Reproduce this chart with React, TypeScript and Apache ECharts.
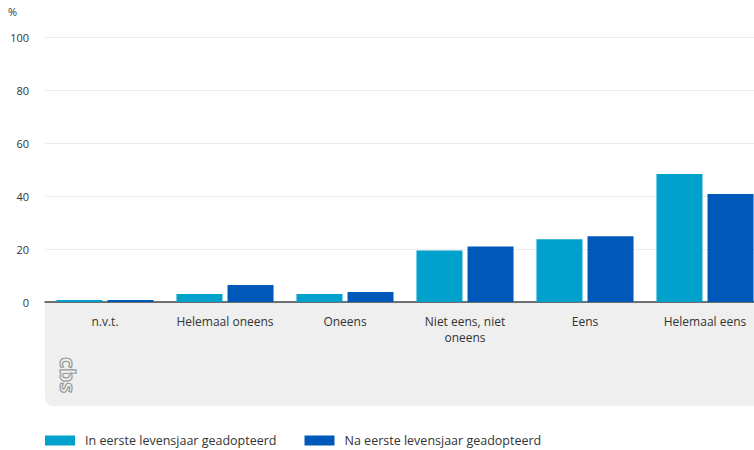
import React, { useEffect, useRef } from "react";
import * as echarts from "echarts";

const categories = ["n.v.t.", "Helemaal oneens", "Oneens", "Niet eens, niet\noneens", "Eens", "Helemaal eens"];
const seriesNames = ["In eerste levensjaar geadopteerd", "Na eerste levensjaar geadopteerd"];
const inEerste = [0.8, 3, 3, 19.4, 23.7, 48.3];
const naEerste = [0.8, 6.4, 3.8, 20.9, 24.8, 40.8];
const yTicks = [0, 20, 40, 60, 80, 100];

const LIGHT = "#00a1cd";
const DARK = "#0058b8";
const FONT = "'Open Sans', 'Noto Sans', sans-serif";

export default function App() {
  const ref = useRef<HTMLDivElement>(null);
  useEffect(() => {
    if (!ref.current) return;
    const chart = echarts.init(ref.current, undefined, { renderer: "svg" });
    chart.setOption({
      animation: false,
      textStyle: { fontFamily: FONT },
      grid: { left: 45, top: 37, height: 265, width: 720, containLabel: false, outerBoundsMode: "none" },
      graphic: [
        {
          type: "rect",
          z: -10,
          shape: { x: 45, y: 302, width: 709, height: 104, r: [0, 0, 0, 8] },
          style: { fill: "#efefef" },
        },
        {
          type: "text",
          left: 8,
          top: 6,
          style: { text: "%", fill: "#333", font: `11px ${FONT}` },
        },
        {
          type: "text",
          x: 80,
          y: 357,
          rotation: -Math.PI / 2,
          style: {
            text: "cbs",
            fill: "none",
            stroke: "#9a9a9a",
            lineWidth: 1.2,
            font: `bold 22px ${FONT}`,
          },
        },
      ],
      legend: {
        left: 40,
        top: 429,
        icon: "rect",
        itemWidth: 30,
        itemHeight: 10,
        itemGap: 28,
        textStyle: { color: "#333", fontSize: 12.5, fontFamily: FONT, padding: [0, 0, 0, 5] },
        data: seriesNames,
      },
      xAxis: {
        type: "category",
        data: categories,
        axisLine: { lineStyle: { color: "#444", width: 1.5 } },
        axisTick: { show: false },
        axisLabel: { color: "#333", fontSize: 12, margin: 11, lineHeight: 16, interval: 0 },
      },
      yAxis: {
        type: "value",
        min: 0,
        max: yTicks[yTicks.length - 1],
        interval: 20,
        axisLabel: { color: "#333", fontSize: 11, margin: 16 },
        splitLine: { lineStyle: { color: "#ebebeb", width: 1 } },
        axisLine: { show: false },
        axisTick: { show: false },
      },
      series: [
        {
          name: seriesNames[0],
          type: "bar",
          data: inEerste,
          itemStyle: { color: LIGHT },
          barWidth: 46,
          barGap: "11%",
        },
        {
          name: seriesNames[1],
          type: "bar",
          data: naEerste,
          itemStyle: { color: DARK },
          barWidth: 46,
          barGap: "11%",
        },
      ],
    });
    return () => chart.dispose();
  }, []);
  return (
    <div
      ref={ref}
      style={{ position: "absolute", left: 0, top: 0, width: 754, height: 450 }}
    />
  );
}
